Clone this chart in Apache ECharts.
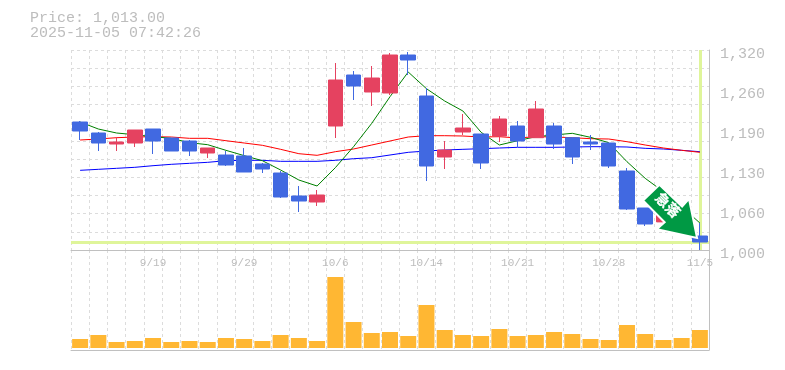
<!DOCTYPE html>
<html>
<head>
<meta charset="utf-8">
<script src="https://cdn.jsdelivr.net/npm/echarts@6/dist/echarts.min.js"></script>
<style>html,body{margin:0;padding:0;background:#fff}#c{width:785px;height:370px}</style>
</head>
<body>
<div id="c"></div>
<script>
const categories = ['9/12','9/16','9/17','9/18','9/19','9/22','9/24','9/25','9/26','9/29','9/30','10/1','10/2','10/3','10/6','10/7','10/8','10/9','10/10','10/14','10/15','10/16','10/17','10/20','10/21','10/22','10/23','10/24','10/27','10/28','10/29','10/30','10/31','11/4','11/5'];
const shownDates = ['9/19','9/29','10/6','10/14','10/21','10/28','11/5'];
const priceTickLabels = ['1,000','1,060','1,130','1,190','1,260','1,320'];
const opens  = [1204.8,1187.2,1169.6,1171.2,1193.6,1179.2,1174.4,1155.2,1152,1150.4,1137.6,1123.2,1086.4,1076.8,1198.4,1280,1252.8,1251.2,1312,1246.4,1148.8,1188.8,1185.6,1182.4,1198.4,1179.7,1198.4,1179.7,1172.8,1171.2,1126.4,1067.2,1045,1050,1022.4];
const closes = [1190.4,1171.2,1172.8,1192,1174.4,1158.4,1158.4,1163.2,1136,1124.8,1129.6,1084.8,1078.4,1088,1272,1262.4,1275.2,1312,1304,1134.4,1160,1195.2,1139.2,1209.6,1174.4,1225.6,1169.6,1148.8,1169.6,1134.4,1065.6,1041.6,1060,1036,1012.8];
const lows   = [1176,1158.4,1158.4,1164.8,1153.6,1158.4,1150.4,1147.2,1134.4,1124.8,1123.2,1083.2,1060.8,1070.4,1179.2,1240,1230.4,1248,1280,1110.4,1129.6,1184,1129.6,1172.8,1164.8,1179.7,1161.6,1137.6,1160,1131.2,1064,1038.4,1044,1034,1000];
const highs  = [1206.4,1188.8,1180.8,1192,1193.6,1179.2,1176,1163.2,1158.4,1163.2,1139.2,1126.4,1102.4,1096,1299.2,1286.4,1294.4,1315.2,1316.8,1259.2,1174.4,1217.6,1185.6,1214.4,1206.4,1238.4,1203.2,1179.7,1184,1171.2,1131.2,1067.2,1062,1058,1043.2];
const maShort = [1204.8,1193.6,1187.2,1184.5,1181.3,1178.7,1171.7,1168.5,1159.5,1151,1142.9,1128,1112,1102.4,1131.7,1165.3,1202.7,1245.3,1284.8,1258.1,1238.4,1222.4,1188.3,1168,1174.9,1181.3,1184,1186.7,1180.3,1171.7,1141.3,1114.7,1093.3,1069.3,1043.2];
const maMid = [1176,1177.6,1179.7,1180.8,1181.3,1180.8,1178.7,1178.7,1174.9,1171.2,1167.5,1161.1,1154.1,1151.5,1157.3,1161.6,1168,1174.4,1180.8,1182.9,1182.9,1182.4,1180.8,1181.3,1179.2,1181.3,1180.8,1179.7,1178.1,1177.6,1173.3,1168,1163.2,1159.5,1156.3];
const maLong = [1127.5,1129.1,1130.7,1132.3,1134.9,1137.1,1138.7,1140.3,1142.9,1143.5,1143.5,1141.9,1141.9,1141.9,1143.5,1146.1,1147.7,1152,1156.3,1158.4,1160,1161.1,1162.1,1163.2,1164.3,1164.3,1164.3,1164.8,1165.3,1165.3,1164.8,1162.7,1161.6,1159.5,1157.3];
const volumes = [9,13,6,7,10,6,7,6,10,9,7,13,10,7,71,26,15,16,12,43,18,13,12,19,12,13,16,14,9,8,23,14,8,10,18];
const currentPrice = 1013;
const headerLines = ['Price: 1,013.00','2025-11-05 07:42:26'];
const arrowText = '急落';

const MONO = '"Liberation Mono", monospace';
const GREY = '#bdbdbd';
const GRID = { color:'#dcdcdc', width:1, type:[3,3] };
const AXIS = { color:'#c0c0c0', width:1 };
const lastDate = categories[categories.length-1];
const candleData = categories.map((_, i) => [opens[i], closes[i], lows[i], highs[i]]);
const maLine = (name, data, color) => ({
  name, type:'line', data, xAxisIndex:0, yAxisIndex:0, showSymbol:false, symbol:'none', z:3,
  lineStyle:{color, width:1}, silent:true, animation:false
});

const chart = echarts.init(document.getElementById('c'), null, {renderer:'canvas'});
chart.setOption({
  animation:false,
  backgroundColor:'#fff',
  title:{
    text:headerLines.join('\n'), left:30, top:11, padding:0,
    textStyle:{fontFamily:MONO, fontSize:15, fontWeight:'normal', color:GREY, lineHeight:15}
  },
  grid:[
    {left:71, right:76, top:50, height:200},
    {left:71, right:76, top:250, height:100}
  ],
  xAxis:[
    {type:'category', gridIndex:0, data:categories, boundaryGap:true,
     axisLine:{show:true, onZero:false, lineStyle:AXIS}, axisTick:{show:false},
     axisLabel:{interval:0, margin:8, color:GREY, fontFamily:MONO, fontSize:11, hideOverlap:false,
       formatter:v => shownDates.includes(v) ? v : ''},
     splitLine:{show:true, interval:0, lineStyle:GRID}},
    {type:'category', gridIndex:1, data:categories, boundaryGap:true,
     axisLine:{show:true, onZero:false, lineStyle:AXIS}, axisTick:{show:false}, axisLabel:{show:false},
     splitLine:{show:true, interval:0, lineStyle:GRID}}
  ],
  yAxis:[
    {type:'value', gridIndex:0, position:'right', min:1000, max:1320, show:false},
    {type:'value', gridIndex:0, position:'right', min:0, max:5, interval:1,
     axisLine:{show:true, lineStyle:AXIS}, axisTick:{show:false}, splitLine:{show:false},
     axisLabel:{margin:11, formatter:(v) => '{t|' + priceTickLabels[v] + '}',
       rich:{t:{color:GREY, fontFamily:MONO, fontSize:15, padding:[9,0,0,0]}}}},
    {type:'value', gridIndex:0, position:'right', min:0, max:11, interval:1,
     axisLine:{show:false}, axisTick:{show:false}, axisLabel:{show:false},
     splitLine:{show:true, lineStyle:GRID}},
    {type:'value', gridIndex:1, position:'right', min:-2, max:98,
     axisLine:{show:true, lineStyle:AXIS}, axisTick:{show:false}, axisLabel:{show:false}, splitLine:{show:false}}
  ],
  series:[
    {type:'line', name:'current', xAxisIndex:0, yAxisIndex:0, data:[], z:1, silent:true,
     markLine:{silent:true, z:1, symbol:'none', animation:false, label:{show:false},
       lineStyle:{color:'#dff59a', width:3, type:'solid'},
       data:[{yAxis:currentPrice},{xAxis:lastDate}]}},
    maLine('MA long', maLong, '#0000ff'),
    maLine('MA mid', maMid, '#ff0000'),
    maLine('MA short', maShort, '#008000'),
    {type:'candlestick', name:'price', xAxisIndex:0, yAxisIndex:0, data:candleData, barWidth:15, z:4,
     itemStyle:{color:'#e54260', color0:'#4169e1', borderColor:'#e54260', borderColor0:'#4169e1', borderWidth:1},
     markPoint:{silent:true, z:10, animation:false,
       data:[{
         coord:[categories[32], 1061.8],
         symbol:'path://M660 186 L681.7 206.7 L688.3 199.3 L696 236.7 L657.7 228.3 L665 221.7 L644.3 201 Z',
         symbolSize:[54,53], symbolOffset:[6.6,0],
         itemStyle:{color:'#009944', borderColor:'#fff', borderWidth:2},
         label:{show:true, position:'inside', formatter:arrowText, rotate:-45, offset:[-6,-3],
           color:'#fff', fontSize:14, fontWeight:'bold', fontFamily:'"Noto Sans CJK JP", sans-serif',
           textBorderColor:'#fff', textBorderWidth:0.3}
       }]}},
    {type:'bar', name:'volume', xAxisIndex:1, yAxisIndex:3, data:volumes, barWidth:16, z:2,
     itemStyle:{color:'#ffb733'}}
  ]
});
</script>
</body>
</html>
